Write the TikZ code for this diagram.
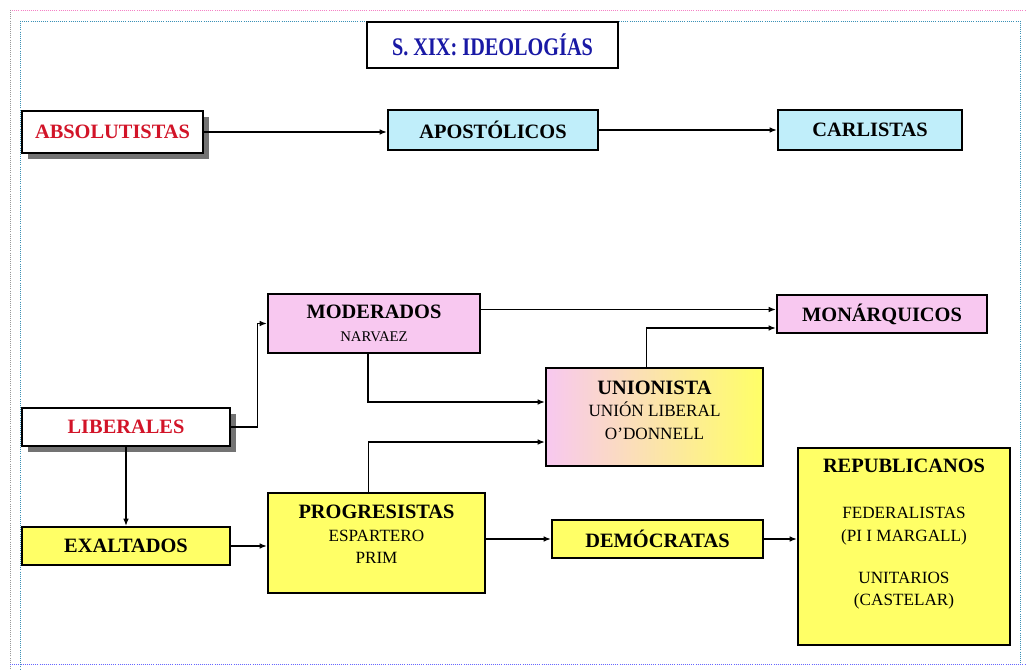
\documentclass[tikz,border=0pt]{standalone}
\usepackage{fontspec}
\setmainfont{Liberation Serif}
\usetikzlibrary{arrows.meta,shadows}

\definecolor{cielo}{RGB}{192,238,250}
\definecolor{rosa}{RGB}{248,200,240}
\definecolor{amarillo}{RGB}{255,255,102}
\definecolor{rojo}{RGB}{210,20,40}
\definecolor{azul}{RGB}{25,25,165}

\newcommand{\linea}[1]{{\fontsize{12.2}{15.5}\selectfont\mdseries #1}}

\tikzset{
  caja/.style={draw, line width=1.8pt, inner sep=2pt, align=center,
    font=\fontsize{14.5}{16}\selectfont\bfseries},
  sombra/.style={drop shadow={shadow xshift=4pt, shadow yshift=-4pt, fill=black!55, opacity=1}},
  flecha/.style={-{Latex[length=5pt,width=4pt]}, line width=0.8pt},
  guia/.style={densely dotted, line width=0.5pt},
}

\begin{document}
\begin{tikzpicture}[x=0.025cm, y=-0.025cm]
        \useasboundingbox (0,0) rectangle (1026,670);
        % page guides
        \draw[guia, magenta!50] (10,10) -- (1026,10);
        \draw[guia, black!40] (10,10) -- (10,670);
        \draw[guia, cyan!70!black] (20,21) -- (1020,21) -- (1020,664);
        \draw[guia, cyan!70!black] (20,21) -- (20,670);
        \draw[guia, blue!60] (10,664) -- (1026,664);

        \node [caja, line width=2pt, minimum width=6.275cm, minimum height=1.15cm, text=azul]
          (titulo) at (492.5,45) {\fontsize{18}{20}\selectfont\scalebox{0.8}[1]{S. XIX: IDEOLOGÍAS}};

        \node [caja, sombra, fill=white, minimum width=4.525cm, minimum height=1.05cm, text=rojo]
          (absol) at (112.5,132) {ABSOLUTISTAS};
        \node [caja, fill=cielo, minimum width=5.25cm, minimum height=1cm] (apost) at (493,130) {APOSTÓLICOS};
        \node [caja, fill=cielo, minimum width=4.6cm, minimum height=1cm] (carl) at (870,130) {CARLISTAS};

        \node [caja, fill=rosa, minimum width=5.3cm, minimum height=1.475cm]
          (moder) at (374,323.5) {MODERADOS\\{\fontsize{10.5}{12}\selectfont\mdseries NARVAEZ}};
        \node [caja, fill=rosa, minimum width=5.25cm, minimum height=0.95cm] (monar) at (882,314) {MONÁRQUICOS};
        \node [caja, left color=rosa, right color=amarillo, minimum width=5.425cm, minimum height=2.45cm]
          (union) at (654.5,417) {UNIONISTA\\\linea{UNIÓN LIBERAL}\\\linea{O’DONNELL}\\[-6pt]\mbox{}};

        \node [caja, sombra, fill=white, minimum width=5.2cm, minimum height=0.95cm, text=rojo]
          (liber) at (126,427) {LIBERALES};
        \node [caja, fill=amarillo, minimum width=5.2cm, minimum height=0.95cm] (exalt) at (126,546) {EXALTADOS};
        \node [caja, fill=amarillo, minimum width=5.425cm, minimum height=2.5cm]
          (progr) at (376.5,543) {PROGRESISTAS\\\linea{ESPARTERO}\\\linea{PRIM}\\[-4pt]\mbox{}};
        \node [caja, fill=amarillo, minimum width=5.275cm, minimum height=0.95cm] (democ) at (657.5,539) {DEMÓCRATAS};
        \node [caja, fill=amarillo, minimum width=5.3cm, minimum height=4.925cm]
          (repub) at (904,546.5) {REPUBLICANOS\\[17pt]\linea{FEDERALISTAS}\\\linea{(PI I MARGALL)}\\[14pt]%
            \linea{UNITARIOS}\\\linea{(CASTELAR)}\\[4pt]\mbox{}};

        % connectors
        \draw[flecha] (absol.east) -- (absol.east -| apost.west);
        \draw[flecha] (apost.east) -- (carl.west);
        \draw[flecha] (liber.east) -- ++(26,0) |- (moder.west);
        \draw[flecha] (liber.south) -- (exalt.north);
        \draw[flecha] (exalt.east) -- (exalt.east -| progr.west);
        \draw[flecha] ([yshift=0.35cm]moder.east) -- ([yshift=0.35cm]moder.east -| monar.west);
        \draw[flecha] ([xshift=-0.2cm]union.north) |- ([yshift=-0.35cm]monar.west);
        \draw[flecha] ([xshift=-0.15cm]moder.south) |- ([yshift=0.375cm]union.west);
        \draw[flecha] ([xshift=-0.2cm]progr.north) |- ([yshift=-0.625cm]union.west);
        \draw[flecha] (progr.east |- democ.west) -- (democ.west);
        \draw[flecha] (democ.east) -- (democ.east -| repub.west);
      \end{tikzpicture}
\end{document}
